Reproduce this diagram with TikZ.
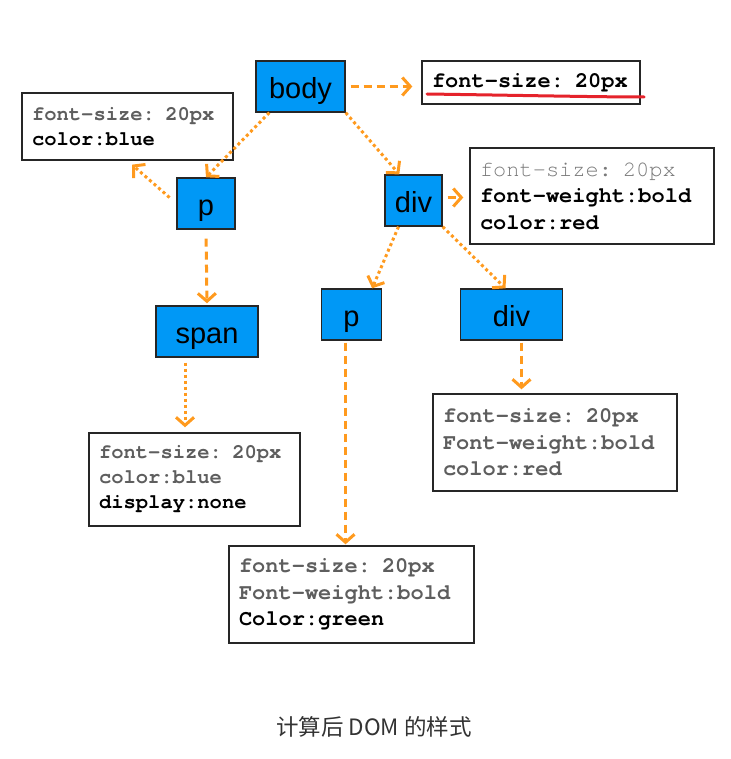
\documentclass[tikz,border=0pt]{standalone}
\usepackage{fontspec}
\usetikzlibrary{arrows.meta}
\newfontfamily\tagfont{Liberation Sans}
\newfontfamily\codefont{TeX Gyre Cursor}
\newfontfamily\cjkfont{Noto Sans CJK SC}
\definecolor{domblue}{HTML}{0098F6}
\definecolor{domorange}{HTML}{FF9A1E}
\definecolor{domgrey}{HTML}{5E5E5E}
\definecolor{domlight}{HTML}{7A7A7A}
\definecolor{domred}{HTML}{E5232B}
\definecolor{domcap}{HTML}{333333}
\tikzset{
  tag/.style={draw=black!85,fill=domblue,line width=1.4pt,inner sep=0pt,
    minimum height=51pt,text height=24pt,text depth=0pt,
    font=\tagfont\fontsize{29}{34}\selectfont},
  css/.style={draw=black!85,fill=white,line width=1.4pt,align=left,
    inner xsep=10pt,inner ysep=3pt,font=\codefont\fontsize{22}{26.5}\selectfont},
  csssmall/.style={css,font=\codefont\fontsize{20.5}{25}\selectfont}}
\newcommand{\fK}{\bfseries\color{black}}
\newcommand{\fG}{\bfseries\color{domgrey}}
\newcommand{\fL}{\mdseries\color{domlight}}

\begin{document}
\begin{tikzpicture}[x=1pt,y=-1pt,
    lnk/.style={draw=domorange,line width=3pt},
    dotarr/.style={lnk,dash pattern=on 3pt off 3pt,
      -{Straight Barb[length=8pt,width=18pt]}},
    dasharr/.style={lnk,dash pattern=on 8pt off 5pt,
      -{Straight Barb[length=8pt,width=18pt]}}]
  \path[use as bounding box] (0,0) rectangle (730,759);

  % DOM nodes
  \node[tag,minimum width=89pt] (body) at (300.5,86.5) {body};
  \node[tag,minimum width=58pt] (p1) at (206,203.5) {p};
  \node[tag,minimum width=57pt] (div1) at (413.5,200.5) {div};
  \node[tag,minimum width=102pt] (span) at (207,331.5) {span};
  \node[tag,minimum width=60pt] (p2) at (351.5,314.5) {p};
  \node[tag,minimum width=102pt] (div2) at (511.5,314.5) {div};

  % computed styles
  \node[css,text width=198pt,minimum height=43pt] (bodycss) at (531,82.5)
    {\fK font-size: 20px};
  \node[csssmall,text width=191pt,minimum height=67pt] (p1css) at (127.5,126.5)
    {\fG font-size: 20px\\ \fK color:blue};
  \node[css,text width=224pt,minimum height=96pt] (div1css) at (592,196)
    {\fL font-size: 20px\\ \fK font-weight:bold\\ \fK color:red};
  \node[csssmall,text width=191pt,minimum height=93pt] (spancss) at (194.5,479.5)
    {\fG font-size: 20px\\ \fG color:blue\\ \fK display:none};
  \node[css,text width=224pt,minimum height=97pt] (div2css) at (555,442.5)
    {\fG font-size: 20px\\ \fG Font-weight:bold\\ \fG color:red};
  \node[css,text width=225pt,minimum height=97pt] (p2css) at (351.5,594.5)
    {\fG font-size: 20px\\ \fG Font-weight:bold\\ \fK Color:green};
  \draw[domred,line width=3pt,line cap=round]
    (427,94) .. controls (530,95.5) and (600,97) .. (644,97);

  % tree edges
  \draw[dotarr] ([xshift=14pt]body.south west) -- (p1.north);
  \draw[dotarr] (body.south east) -- ([xshift=15pt]div1.north west);
  \draw[dasharr,shorten <=9pt,shorten >=2pt] (p1.south) -- (span.north);
  \draw[dotarr] ([xshift=-15pt]div1.south) -- ([xshift=-10pt]p2.north east);
  \draw[dotarr] (div1.south east) -- ([xshift=-6pt]div2.north);

  % node to its style
  \draw[dasharr,shorten <=5pt,shorten >=9pt] (body.east) -- (body.east -| bodycss.west);
  \draw[dotarr,shorten <=9pt,shorten >=6pt] (p1.west) -- (p1css.south);
  \draw[dasharr,shorten <=5pt,shorten >=6pt]
    ([yshift=3pt]div1.east) -- ([yshift=3pt]div1.east -| div1css.west);
  \draw[dotarr,shorten <=5pt,shorten >=5pt]
    ([xshift=-22pt]span.south) -- ([xshift=-22pt]span.south |- spancss.north);
  \draw[dasharr,shorten <=2pt,shorten >=1pt]
    ([xshift=-6pt]p2.south) -- ([xshift=-6pt]p2.south |- p2css.north);
  \draw[dasharr,shorten <=2pt,shorten >=4pt]
    ([xshift=10pt]div2.south) -- ([xshift=10pt]div2.south |- div2css.north);

  \node[text=domcap,font=\cjkfont\fontsize{22.5}{27}\selectfont] (caption) at (374,727)
    {计算后 DOM 的样式};
\end{tikzpicture}
\end{document}
